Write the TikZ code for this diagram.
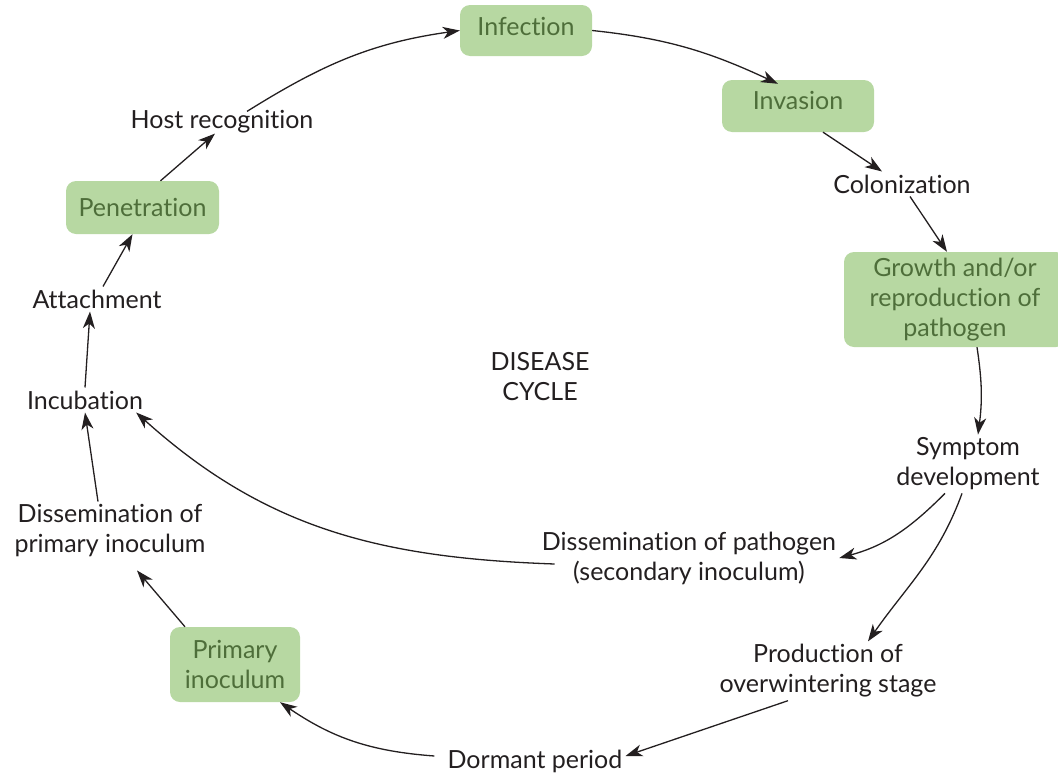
\documentclass[tikz,border=0pt]{standalone}
\usepackage{fontspec}
\setmainfont{Lato}[Ligatures=NoCommon]
\usetikzlibrary{arrows.meta}
\definecolor{boxgreen}{RGB}{183,216,162}
\definecolor{boxtext}{RGB}{78,110,58}
\definecolor{ink}{RGB}{35,31,32}
\begin{document}
\begin{tikzpicture}[x=1pt, y=-1pt,
  stage/.style={fill=boxgreen, text=boxtext, rounded corners=10pt, align=center, inner sep=0pt},
  lbl/.style={text=ink, align=center, inner sep=3pt},
  cyc/.style={draw=ink, line width=1.3pt, -{Stealth[length=17pt,width=12pt,inset=5pt]}},
  font=\fontsize{25}{30}\selectfont]
\useasboundingbox (0,0) rectangle (1058,774);
% stages in green boxes
\node[stage, minimum width=132, minimum height=51, text depth=8pt] (infection) at (526,30.5) {Infection};
\node[stage, minimum width=152, minimum height=52, text depth=12pt] (invasion) at (798,106) {Invasion};
\node[stage, minimum width=222, minimum height=95] (growth) at (955,299.5) {Growth and/or\\reproduction of\\pathogen};
\node[stage, minimum width=130, minimum height=75] (primary) at (235,664.5) {Primary\\inoculum};
\node[stage, minimum width=153, minimum height=53] (penetration) at (142.5,207.5) {Penetration};
% plain stages
\node[lbl] (hostrec) at (222,122) {Host recognition};
\node[lbl] (colon) at (902,184) {Colonization};
\node[lbl] (symptom) at (968,464) {Symptom\\development};
\node[lbl] (dissec) at (689,558) {Dissemination of pathogen\\(secondary inoculum)};
\node[lbl] (prod) at (828,671) {Production of\\overwintering stage};
\node[lbl] (dormant) at (535,761) {Dormant period};
\node[lbl] (disprim) at (110,531) {Dissemination of\\primary inoculum};
\node[lbl] (incub) at (85,400) {Incubation};
\node[lbl] (attach) at (97,299) {Attachment};
\node[lbl] (disease) at (540,377) {DISEASE\\CYCLE};
% the cycle
\draw[cyc] ([xshift=25,yshift=-4]hostrec.north) to[out=32,in=188] (infection.west);
\draw[cyc] (infection.east) to[out=-6,in=155] ([xshift=-20,yshift=-4]invasion.north);
\draw[cyc] ([xshift=25]invasion.south) -- ([xshift=-20]colon.north);
\draw[cyc] ([xshift=8]colon.south) -- ([xshift=-8]growth.north);
\draw[cyc] ([xshift=22]growth.south) to[bend left=8] ([xshift=10]symptom.north);
\draw[cyc] ([xshift=-23]symptom.south) to[out=225,in=15] (dissec.east);
\draw[cyc] ([xshift=-6]symptom.south) to[out=250,in=55] ([xshift=40]prod.north);
\draw[cyc] ([xshift=-40]prod.south) -- ([yshift=5]dormant.east);
\draw[cyc] ([xshift=-10,yshift=5]dormant.west) to[bend left=15] ([xshift=45]primary.south);
\draw[cyc] ([xshift=-50]primary.north) -- ([xshift=27,yshift=-10]disprim.south);
\draw[cyc] ([xshift=-12]disprim.north) -- (incub.south);
\draw[cyc] (incub.north) -- ([xshift=-7]attach.south);
\draw[cyc] ([xshift=6]attach.north) -- ([xshift=-10]penetration.south);
\draw[cyc] ([xshift=18]penetration.north) -- ([xshift=-7,yshift=3]hostrec.south);
\draw[cyc] ([xshift=16,yshift=-6]dissec.west) to[out=178,in=-42] ([xshift=-10]incub.south east);
\end{tikzpicture}
\end{document}
